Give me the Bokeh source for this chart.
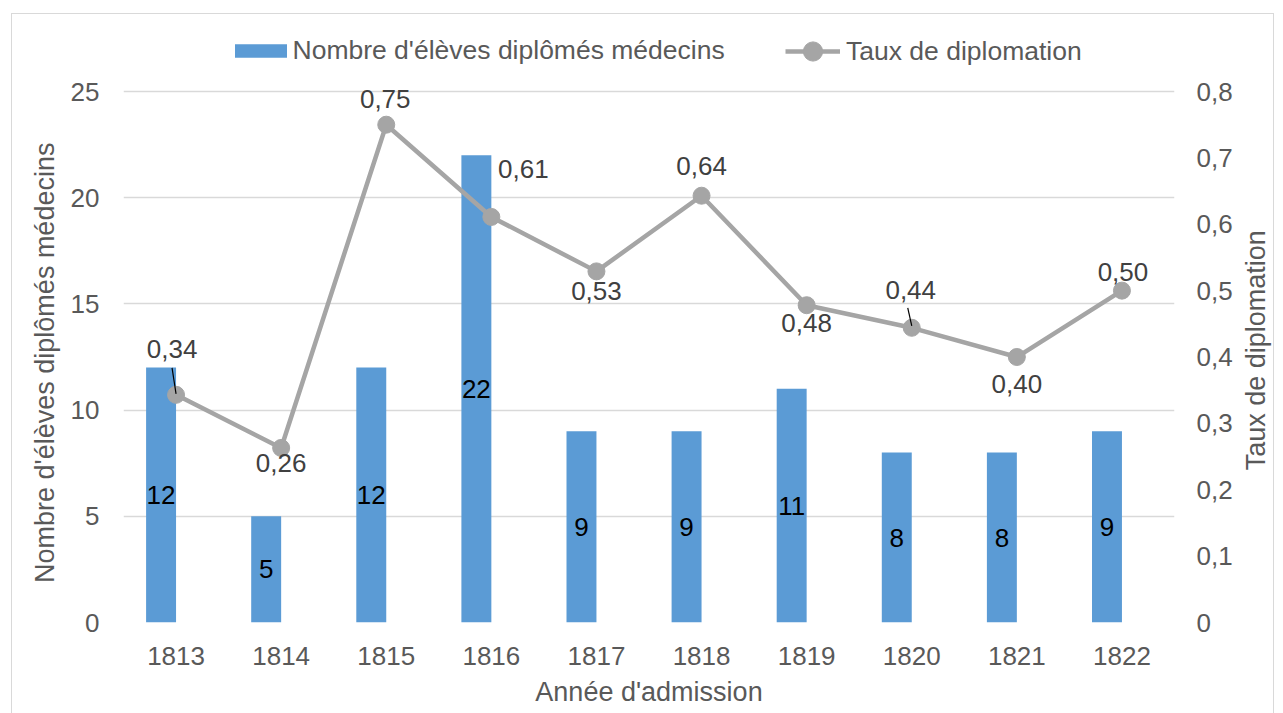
import math
from bokeh.plotting import figure
from bokeh.layouts import row
from bokeh.models import (ColumnDataSource, Range1d, LinearAxis, FixedTicker,
                          LabelSet, Legend, LegendItem)
from bokeh.core.properties import value
from bokeh.transform import dodge
from bokeh.embed import file_html
from bokeh.resources import INLINE

# ---------------- data ----------------
years = ["1813", "1814", "1815", "1816", "1817", "1818", "1819", "1820", "1821", "1822"]
graduates = [12, 5, 12, 22, 9, 9, 11, 8, 8, 9]
rates = [0.343, 0.263, 0.75, 0.611, 0.529, 0.643, 0.478, 0.444, 0.40, 0.50]
count_ticks = [0, 5, 10, 15, 20, 25]
rate_ticks = [0, 0.1, 0.2, 0.3, 0.4, 0.5, 0.6, 0.7, 0.8]
rate_tick_labels = ["0", "0,1", "0,2", "0,3", "0,4", "0,5", "0,6", "0,7", "0,8"]

bar_series_name = "Nombre d'élèves diplômés médecins"
line_series_name = "Taux de diplomation"
x_title = "Année d'admission"

# ---------------- style / layout ----------------
FONT = "Liberation Sans"
FS = "26px"
TITLE_FS = "27px"
LEG_FS = "26.5px"
BAR_COLOR = "#5b9bd5"
LINE_COLOR = "#a5a5a5"
AXIS_TEXT = "#595959"
GRID = "#d9d9d9"
BAR_W = 0.285

W_TOTAL, H = 1283, 713
W_SIDE = 43                               # narrow strip holding the right-hand title
W = W_TOTAL - W_SIDE
LEFT, RIGHT, BOTTOM = 123, W - 1174, 91   # borders around plot area
PLOT_H = 531                              # height of the 0..25 area in px
TOP_PAD = 71                              # room above 25 kept inside the frame (legend)
TOP = H - BOTTOM - PLOT_H - TOP_PAD

count_max = 25
rate_max = 0.8
ext = (PLOT_H + TOP_PAD) / PLOT_H
NBSP = "\u00a0"
LINE_GRAD = "linear-gradient(#d9d9d9,#d9d9d9)"

# label placement for the line labels (screen px, up positive)
lbl_dx = [-4, 0, -1, 32, 0, 0, 0, -1, 0, 1]
lbl_dy = [46, -15, 26, 48, -20, 30, -18, 38, -27, 19]

src = ColumnDataSource(dict(
    year=years,
    graduates=graduates,
    half=[g / 2 for g in graduates],
    grad_label=[str(g) for g in graduates],
    rate=rates,
    rate_label=[("%.2f" % r).replace(".", ",") for r in rates],
    dx=lbl_dx,
    dy=lbl_dy,
))

p = figure(width=W, height=H, x_range=years, y_range=Range1d(0, count_max * ext),
           output_backend="svg", toolbar_location=None,
           min_border_left=LEFT, min_border_right=RIGHT,
           min_border_top=TOP, min_border_bottom=BOTTOM)
p.extra_y_ranges = {"rate": Range1d(0, rate_max * ext)}
p.outline_line_color = None
p.border_fill_color = None
p.background_fill_color = None
p.styles = {
    "background-color": "white",
    "background-image": LINE_GRAD + ", " + LINE_GRAD,
    "background-size": "1px 100%, " + str(W - 11) + "px 1px",
    "background-position": "11px 13px, 11px 13px",
    "background-repeat": "no-repeat",
}

# bars
bars = p.vbar(x=dodge("year", -BAR_W / 2, range=p.x_range), top="graduates", width=BAR_W,
              source=src, fill_color=BAR_COLOR, line_color=None)

# line
ln = p.line("year", "rate", source=src, y_range_name="rate", line_color=LINE_COLOR,
            line_width=4.5)
pts = p.scatter("year", "rate", source=src, y_range_name="rate", size=17,
                fill_color=LINE_COLOR, line_color=LINE_COLOR)

# leader lines (1813 and 1820)
px_rate = rate_max / PLOT_H
px_cat = 1.0 / 105.1
lead_src = ColumnDataSource(dict(
    year=[years[0], years[7]],
    y0=[rates[0] + 1 * px_rate, rates[7] + 2 * px_rate],
    y1=[rates[0] + 27 * px_rate, rates[7] + 20 * px_rate],
))
p.segment(x0="year", y0="y0", x1=dodge("year", -4 * px_cat, range=p.x_range), y1="y1",
          source=lead_src, y_range_name="rate", line_color="black", line_width=1.2)

# data labels
bar_labels = LabelSet(x=dodge("year", -BAR_W / 2, range=p.x_range), y="half", text="grad_label",
                      source=src, text_align="center", text_baseline="middle",
                      text_font=value(FONT), text_font_size=value(FS), text_color="black")
line_labels = LabelSet(x="year", y="rate", y_range_name="rate", text="rate_label",
                       x_offset="dx", y_offset="dy", source=src,
                       text_align="center", text_baseline="middle",
                       text_font=value(FONT), text_font_size=value(FS), text_color="#404040")
p.add_layout(bar_labels)
p.add_layout(line_labels)

# axes
p.xgrid.visible = False
p.ygrid.ticker = FixedTicker(ticks=count_ticks)
p.ygrid.grid_line_color = GRID
p.ygrid.grid_line_width = 1.3

def style_axis(ax):
    ax.axis_line_color = None
    ax.major_tick_line_color = None
    ax.minor_tick_line_color = None
    ax.major_tick_out = 0
    ax.major_tick_in = 0
    ax.major_label_text_font = FONT
    ax.major_label_text_font_size = FS
    ax.major_label_text_color = AXIS_TEXT
    ax.axis_label_text_font = FONT
    ax.axis_label_text_font_size = TITLE_FS
    ax.axis_label_text_color = AXIS_TEXT
    ax.axis_label_text_font_style = "normal"

xa = p.xaxis[0]
style_axis(xa)
xa.axis_label = x_title
xa.major_label_standoff = 24
xa.axis_label_standoff = 9
xa.axis_label_text_line_height = 1.0

# the frame reaches above the 25 gridline (legend room), so the vertical title is
# padded at its top end to stay centred on the 0..25 area
ya = p.yaxis[0]
style_axis(ya)
ya.ticker = FixedTicker(ticks=count_ticks)
ya.axis_label = bar_series_name + NBSP * 11
ya.major_label_standoff = 24
ya.axis_label_standoff = 8

ra = LinearAxis(y_range_name="rate", ticker=FixedTicker(ticks=rate_ticks),
                major_label_overrides=dict(zip(rate_ticks, rate_tick_labels)))
style_axis(ra)
ra.major_label_standoff = 22
p.add_layout(ra, "right")

# legends (inside the frame, above the 25 gridline)
leg1 = Legend(items=[LegendItem(label=bar_series_name, renderers=[bars])],
              location=(104.5, 556), orientation="horizontal",
              glyph_width=65, glyph_height=17, label_standoff=0,
              padding=0, margin=0, border_line_color=None, background_fill_color=None,
              label_text_font=FONT, label_text_font_size=LEG_FS, label_text_color=AXIS_TEXT)
leg2 = Legend(items=[LegendItem(label=line_series_name, renderers=[ln, pts])],
              location=(662, 547), orientation="horizontal",
              glyph_width=55, glyph_height=48, label_standoff=6,
              padding=0, margin=0, border_line_color=None, background_fill_color=None,
              label_text_font=FONT, label_text_font_size=LEG_FS, label_text_color=AXIS_TEXT)
p.add_layout(leg1, "center")
p.add_layout(leg2, "center")

# ---------------- right-hand title strip (text reads bottom-to-top) ----------------
TITLE_X = 15                          # px into the strip
TITLE_Y = H - (91 + 622) / 2 - 34     # from the bottom of the strip
side = figure(width=W_SIDE, height=H, x_range=Range1d(0, W_SIDE), y_range=Range1d(0, H),
              output_backend="svg", toolbar_location=None, min_border=0,
              x_axis_location=None, y_axis_location=None)
side.grid.visible = False
side.outline_line_color = None
side.border_fill_color = None
side.background_fill_color = None
side.styles = {
    "background-color": "white",
    "background-image": LINE_GRAD + ", " + LINE_GRAD,
    "background-size": str(W_SIDE - 9) + "px 1px, 1px 100%",
    "background-position": "0px 13px, " + str(W_SIDE - 10) + "px 13px",
    "background-repeat": "no-repeat",
}
side.text(x=[TITLE_X], y=[TITLE_Y], text=[line_series_name], angle=math.pi / 2,
          text_align="center", text_baseline="middle",
          text_font=value(FONT), text_font_size=value(TITLE_FS), text_color=AXIS_TEXT)

layout = row(p, side, spacing=0)
open("out.html", "w").write(file_html(layout, INLINE))
